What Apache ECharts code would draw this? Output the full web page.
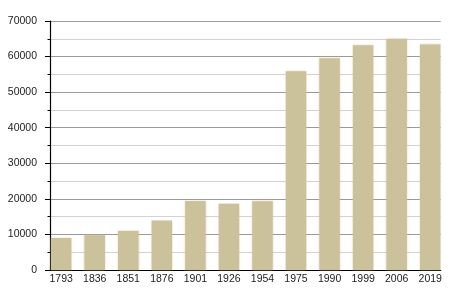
<!DOCTYPE html>
<html>
<head>
<meta charset="utf-8">
<script src="https://cdn.jsdelivr.net/npm/echarts@6/dist/echarts.min.js"></script>
<style>html,body{margin:0;padding:0;background:#fff}#c{width:450px;height:300px}</style>
</head>
<body>
<div id="c"></div>
<script>
var years = ['1793','1836','1851','1876','1901','1926','1954','1975','1990','1999','2006','2019'];
var population = [9000, 9800, 11000, 13900, 19400, 18600, 19300, 55900, 59500, 63200, 65000, 63400];
var yTicks = [0, 10000, 20000, 30000, 40000, 50000, 60000, 70000];

var chart = echarts.init(document.getElementById('c'), null, {renderer: 'canvas'});
var font = 'Liberation Sans, Arial, sans-serif';
chart.setOption({
  animation: false,
  backgroundColor: '#ffffff',
  grid: [
    {left: 50, right: 9.3, top: 21, bottom: 30},
    {left: 44.4, width: 402.6, top: 21, bottom: 30}
  ],
  xAxis: [
    {gridIndex: 0, type: 'value', min: 0, max: 1, show: true,
      axisLine: {show: true, onZero: false, lineStyle: {color: '#000', width: 1.2}},
      axisTick: {show: false}, axisLabel: {show: false}, splitLine: {show: false}},
    {gridIndex: 1, type: 'category', data: years,
      axisLine: {show: false}, axisTick: {show: false},
      axisLabel: {interval: 0, margin: 4, fontSize: 10.5, color: '#222', fontFamily: font}}
  ],
  yAxis: [
    {gridIndex: 0, type: 'value', min: yTicks[0], max: yTicks[yTicks.length - 1], interval: 10000,
      axisLine: {show: true, lineStyle: {color: '#000', width: 1.2}},
      axisTick: {show: true, length: 5, lineStyle: {color: '#000'}},
      minorTick: {show: true, splitNumber: 2, length: 2.5, lineStyle: {color: '#000'}},
      splitLine: {show: true, lineStyle: {color: '#9a9a9a', width: 1}},
      minorSplitLine: {show: true, lineStyle: {color: '#d2d2d2', width: 1}},
      axisLabel: {margin: 13, fontSize: 10.5, color: '#222', fontFamily: font,
        formatter: function (v) { return String(v); }}},
    {gridIndex: 1, type: 'value', min: yTicks[0], max: yTicks[yTicks.length - 1], show: false,
      splitLine: {show: false}}
  ],
  series: [{
    type: 'bar', xAxisIndex: 1, yAxisIndex: 1, data: population, barWidth: 20.5,
    itemStyle: {color: '#cbc19b', shadowColor: 'rgba(203,193,155,0.6)', shadowBlur: 2}
  }]
});
</script>
</body>
</html>
